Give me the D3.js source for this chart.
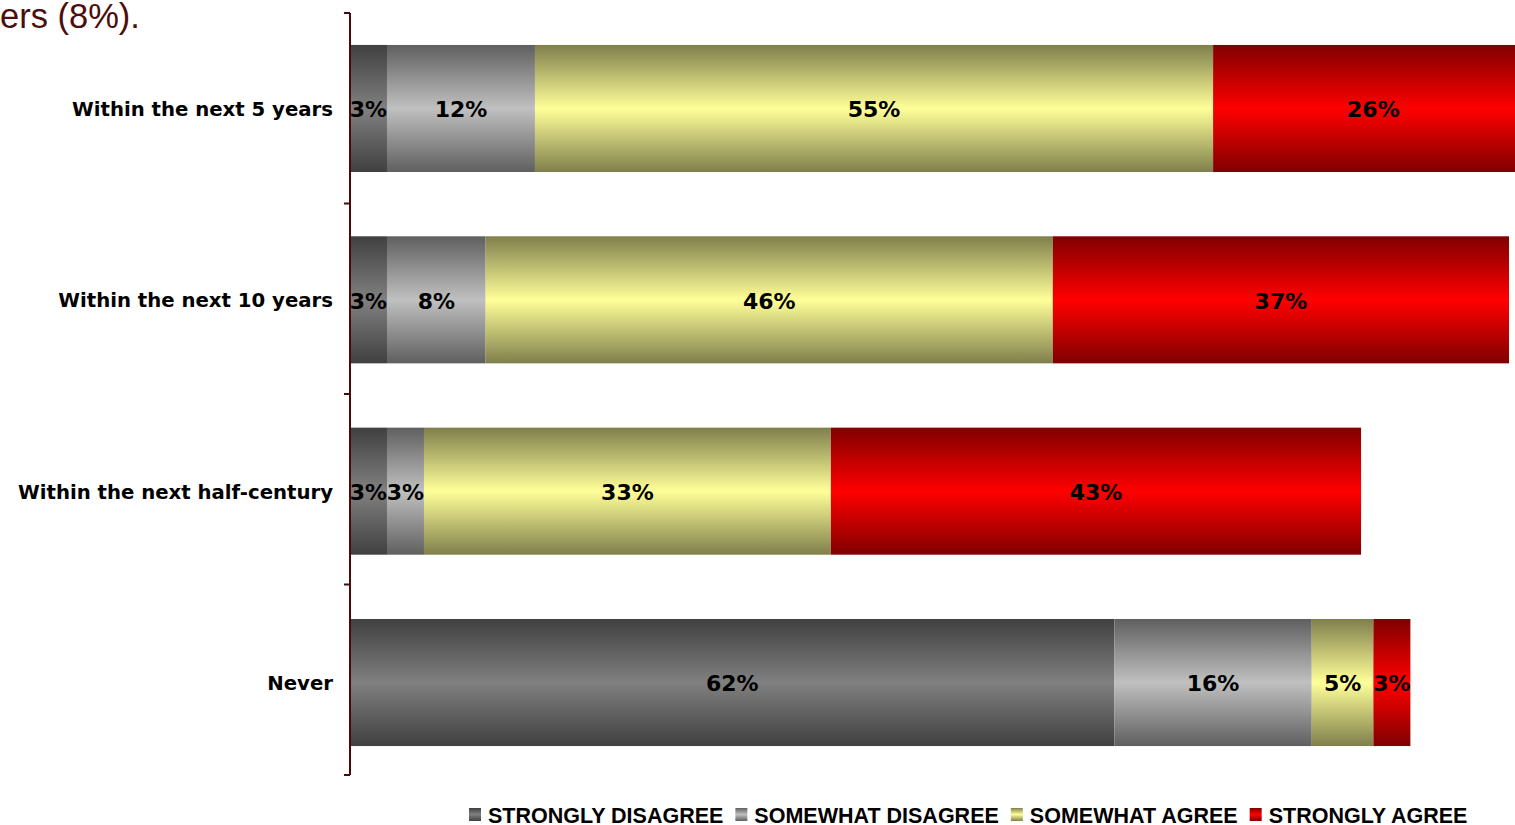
<!DOCTYPE html>
<html>
<head>
<meta charset="utf-8">
<script src="https://cdnjs.cloudflare.com/ajax/libs/d3/7.8.5/d3.min.js"></script>
<style>
  body { margin: 0; background: #fff; overflow: hidden; }
</style>
</head>
<body>
<div id="root"></div>
<script>
var categories = ["Within the next 5 years", "Within the next 10 years", "Within the next half-century", "Never"];
var seriesNames = ["STRONGLY DISAGREE", "SOMEWHAT DISAGREE", "SOMEWHAT AGREE", "STRONGLY AGREE"];
var stronglyDisagree = [3, 3, 3, 62];
var somewhatDisagree = [12, 8, 3, 16];
var somewhatAgree = [55, 46, 33, 5];
var stronglyAgree = [26, 37, 43, 3];

// gradient colours: edge (dark) and middle (light)
var edgeColors = ["#404040", "#5f5f5f", "#7f7f4c", "#800000"];
var midColors = ["#808080", "#c0c0c0", "#ffff99", "#ff0000"];

var svgWidth = 1515, svgHeight = 825;

var svg = d3.select("#root")
    .append("svg")
    .attr("width", svgWidth)
    .attr("height", svgHeight);

var data = categories.map(function (c, i) {
    return {
        cat: c,
        values: [stronglyDisagree[i], somewhatDisagree[i], somewhatAgree[i], stronglyAgree[i]]
    };
});

var x = d3.scaleLinear().domain([0, 100]).range([350, 350 + 1233]);

var y = d3.scaleBand()
    .domain(categories)
    .range([13, 778])
    .paddingInner(0.336)
    .paddingOuter(0.167);

// category boundaries for the tick marks
var yTick = d3.scaleLinear().domain([0, categories.length]).range([13, 775]);

var defs = svg.append("defs");
seriesNames.forEach(function (s, i) {
    var g = defs.append("linearGradient")
        .attr("id", "grad" + i)
        .attr("x1", 0).attr("y1", 0).attr("x2", 0).attr("y2", 1);
    g.append("stop").attr("offset", "0%").attr("stop-color", edgeColors[i]);
    g.append("stop").attr("offset", "50%").attr("stop-color", midColors[i]);
    g.append("stop").attr("offset", "100%").attr("stop-color", edgeColors[i]);
});

// leftover sentence text at top
svg.append("text")
    .attr("x", 0)
    .attr("y", 28)
    .attr("font-family", "Liberation Sans, Arial, sans-serif")
    .attr("font-size", 34.5)
    .attr("fill", "#4d0d0d")
    .text("ers (8%).");

var rows = svg.append("g").selectAll("g")
    .data(data)
    .enter().append("g");

var segs = rows.selectAll("g")
    .data(function (d) {
        var acc = 0;
        return d.values.map(function (v, k) {
            var s = { cat: d.cat, k: k, v: v, x0: acc, x1: acc + v };
            acc += v;
            return s;
        });
    })
    .enter().append("g");

segs.append("rect")
    .attr("x", function (d) { return x(d.x0); })
    .attr("y", function (d) { return y(d.cat); })
    .attr("width", function (d) { return x(d.x1) - x(d.x0); })
    .attr("height", y.bandwidth())
    .attr("fill", function (d) { return "url(#grad" + d.k + ")"; });

segs.append("text")
    .attr("x", function (d) { return (x(d.x0) + x(d.x1)) / 2; })
    .attr("y", function (d) { return y(d.cat) + y.bandwidth() / 2; })
    .attr("dy", "0.4em")
    .attr("text-anchor", "middle")
    .attr("font-family", "DejaVu Sans, Verdana, sans-serif")
    .attr("font-weight", "bold")
    .attr("font-size", 22)
    .attr("fill", "#000")
    .text(function (d) { return d.v + "%"; });

// category axis
var axis = svg.append("g");
axis.append("line")
    .attr("x1", 350).attr("x2", 350)
    .attr("y1", 13).attr("y2", 775)
    .attr("stroke", "#4a0a0a")
    .attr("stroke-width", 2);

axis.selectAll(".tick")
    .data(d3.range(categories.length + 1))
    .enter().append("line")
    .attr("x1", 344).attr("x2", 350)
    .attr("y1", function (d) { return yTick(d); })
    .attr("y2", function (d) { return yTick(d); })
    .attr("stroke", "#4a0a0a")
    .attr("stroke-width", 2);

axis.selectAll(".lab")
    .data(categories)
    .enter().append("text")
    .attr("x", 333)
    .attr("y", function (d) { return y(d) + y.bandwidth() / 2; })
    .attr("dy", "0.38em")
    .attr("text-anchor", "end")
    .attr("font-family", "DejaVu Sans, Verdana, sans-serif")
    .attr("font-weight", "bold")
    .attr("font-size", 19.7)
    .attr("fill", "#000")
    .text(function (d) { return d; });

// legend
var legend = svg.append("g");
var lx = 469;
seriesNames.forEach(function (s, i) {
    var g = legend.append("g").attr("transform", "translate(" + lx + ",0)");
    g.append("rect")
        .attr("x", 0).attr("y", 808)
        .attr("width", 12).attr("height", 13)
        .attr("fill", "url(#grad" + i + ")");
    var t = g.append("text")
        .attr("x", 19)
        .attr("y", 823)
        .attr("font-family", "Liberation Sans, Arial, sans-serif")
        .attr("font-weight", "bold")
        .attr("font-size", 21.5)
        .attr("fill", "#000")
        .text(s);
    lx += 19 + t.node().getComputedTextLength() + 12;
});
</script>
</body>
</html>
